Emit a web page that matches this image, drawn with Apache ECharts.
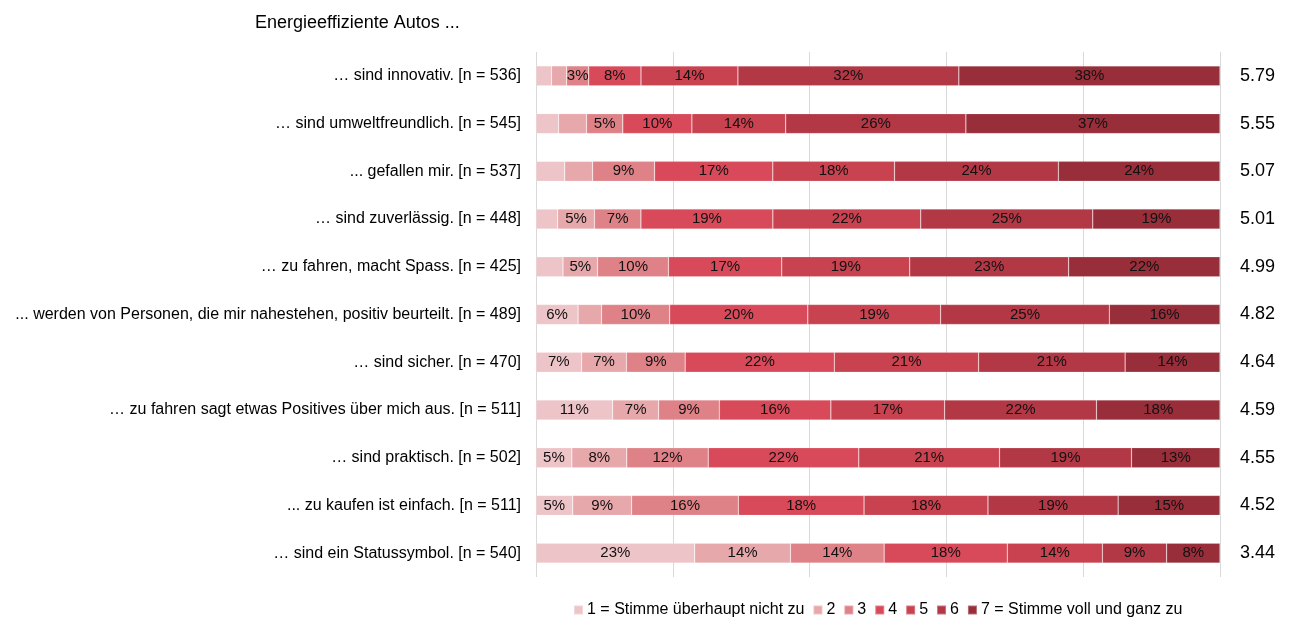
<!DOCTYPE html>
<html>
<head>
<meta charset="utf-8">
<script src="https://cdn.jsdelivr.net/npm/echarts@6/dist/echarts.min.js"></script>
<style>
  html, body { margin: 0; padding: 0; background: #fff; }
  #chart { width: 1294px; height: 617px; }
</style>
</head>
<body>
<div id="chart"></div>
<script>
// Statements about energy-efficient cars, share of answers per scale level (%)
const categories = [
  "… sind innovativ. [n = 536]",
  "… sind umweltfreundlich. [n = 545]",
  "... gefallen mir. [n = 537]",
  "… sind zuverlässig. [n = 448]",
  "… zu fahren, macht Spass. [n = 425]",
  "... werden von Personen, die mir nahestehen, positiv beurteilt. [n = 489]",
  "… sind sicher. [n = 470]",
  "… zu fahren sagt etwas Positives über mich aus. [n = 511]",
  "… sind praktisch. [n = 502]",
  "... zu kaufen ist einfach. [n = 511]",
  "… sind ein Statussymbol. [n = 540]"
];

const level1 = [2.27, 3.3, 4.2, 3.17, 3.95, 6.15, 6.67, 11.2, 5.24, 5.37, 23.2];
const level2 = [2.2, 4.08, 4.08, 5.37, 5.05, 3.43, 6.54, 6.73, 8.03, 8.61, 14.0];
const level3 = [3.24, 5.31, 9.06, 6.8, 10.36, 9.97, 8.6, 8.87, 11.91, 15.6, 13.7];
const level4 = [7.64, 10.1, 17.28, 19.29, 16.57, 20.19, 21.8, 16.31, 22.01, 18.38, 18.0];
const level5 = [14.17, 13.72, 17.8, 21.62, 18.71, 19.42, 21.1, 16.63, 20.58, 18.12, 13.9];
const level6 = [32.3, 26.34, 23.95, 25.15, 23.24, 24.66, 21.42, 22.2, 19.29, 19.03, 9.4];
const level7 = [38.18, 37.15, 23.63, 18.6, 22.12, 16.18, 13.87, 18.06, 12.94, 14.89, 7.8];

// Mean rating per statement (scale 1–7)
const means = ["5.79", "5.55", "5.07", "5.01", "4.99", "4.82", "4.64", "4.59", "4.55", "4.52", "3.44"];

const levelNames = [
  "1 = Stimme überhaupt nicht zu", "2", "3", "4", "5", "6", "7 = Stimme voll und ganz zu"
];
const levelColors = ["#edc4c7", "#e7a8ac", "#df8288", "#d84a59", "#c8424f", "#b33846", "#982e3a"];

// Small segments carry no label, except this one [row, level]
const extraLabels = [[0, 2]];

const levels = [level1, level2, level3, level4, level5, level6, level7];
const FONT = "'Liberation Sans', Arial, sans-serif";

const series = levels.map((vals, li) => ({
  name: levelNames[li],
  type: 'bar',
  stack: 'total',
  barWidth: 20,
  itemStyle: { color: levelColors[li], borderColor: 'rgba(255,255,255,0.3)', borderWidth: 0.6 },
  label: {
    show: true,
    position: 'inside',
    fontFamily: FONT,
    fontSize: 15,
    color: '#111',
    formatter: p => {
      const keep = p.value >= 4.5 || extraLabels.some(e => e[0] === p.dataIndex && e[1] === li);
      return keep ? Math.round(p.value) + '%' : '';
    }
  },
  emphasis: { disabled: true },
  data: vals
}));

const chart = echarts.init(document.getElementById('chart'));
chart.setOption({
  animation: false,
  title: {
    text: 'Energieeffiziente Autos ...',
    left: 250,
    top: 9,
    textStyle: { fontFamily: FONT, fontSize: 18, fontWeight: 'normal', color: '#000' }
  },
  legend: {
    left: 568,
    top: 597,
    itemWidth: 9,
    itemHeight: 9,
    itemGap: 8,
    icon: 'rect',
    textStyle: { fontFamily: FONT, fontSize: 16, color: '#000', padding: [0, 0, 0, -1] },
    data: levelNames
  },
  grid: { left: 536, right: 74, top: 52, height: 525, containLabel: false },
  xAxis: {
    type: 'value',
    min: 0,
    max: 100,
    interval: 20,
    axisLabel: { show: false },
    axisLine: { show: false },
    axisTick: { show: false },
    splitLine: { show: true, lineStyle: { color: '#d9d9d9', width: 1 } }
  },
  yAxis: [
    {
      type: 'category',
      data: categories,
      inverse: true,
      axisLine: { show: false },
      axisTick: { show: false },
      axisLabel: { fontFamily: FONT, fontSize: 16, color: '#000', margin: 15 }
    },
    {
      type: 'category',
      data: means,
      inverse: true,
      position: 'right',
      axisLine: { show: false },
      axisTick: { show: false },
      axisLabel: { fontFamily: FONT, fontSize: 18, color: '#000', margin: 20, align: 'left' }
    }
  ],
  series: series
});
</script>
</body>
</html>
